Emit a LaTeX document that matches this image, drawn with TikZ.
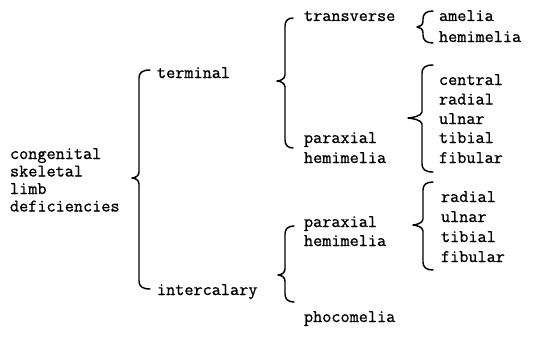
\documentclass[tikz,border=0pt]{standalone}
\usepackage{fontspec}
\setmonofont[FakeBold=0.9]{Latin Modern Mono}
\begin{document}
\begin{tikzpicture}[x=0.75pt,y=-0.75pt,
  lbl/.style={anchor=base west,inner sep=0pt,outer sep=0pt,font=\ttfamily\fontsize{13.3}{14}\selectfont},
  brc/.style={line width=1.1pt,line cap=round,line join=round}]
\useasboundingbox (0,0) rectangle (543,339);
\newcommand\mybrace[6]{% xv, xe, xtip, ytop, ytip, ybot
  \draw[brc] (#2,#4) .. controls (#1+3,#4) and (#1,#4+3) .. (#1,#4+8)
    -- (#1,#5-6) .. controls (#1,#5-2) and (#3+3,#5) .. (#3,#5)
    .. controls (#3+3,#5) and (#1,#5+2) .. (#1,#5+6)
    -- (#1,#6-8) .. controls (#1,#6-3) and (#1+3,#6) .. (#2,#6);}
% root
\node[lbl] (c1) at (10,159) {congenital};
\node[lbl] (c2) at (10,176.5) {skeletal};
\node[lbl] (c3) at (10,194) {limb};
\node[lbl] (c4) at (10,211.5) {deficiencies};
% level 1
\node[lbl] (term) at (157,78) {terminal};
\node[lbl] (inter) at (157,295) {intercalary};
% level 2
\node[lbl] (trans) at (304,21) {transverse};
\node[lbl] (px1) at (304,143) {paraxial};
\node[lbl] (px1b) at (304,163) {hemimelia};
\node[lbl] (px2) at (304,227) {paraxial};
\node[lbl] (px2b) at (304,246) {hemimelia};
\node[lbl] (phoc) at (304,322) {phocomelia};
% level 3
\node[lbl] (amel) at (439,21) {amelia};
\node[lbl] (hemi) at (439,42) {hemimelia};
\node[lbl] (cen) at (439,85) {central};
\node[lbl] (rad1) at (439,104.5) {radial};
\node[lbl] (uln1) at (439,124) {ulnar};
\node[lbl] (tib1) at (439,143) {tibial};
\node[lbl] (fib1) at (439,163) {fibular};
\node[lbl] (rad2) at (441,202) {radial};
\node[lbl] (uln2) at (441,222) {ulnar};
\node[lbl] (tib2) at (441,242) {tibial};
\node[lbl] (fib2) at (441,262) {fibular};
% braces
\mybrace{139}{150}{132}{70}{178}{289}
\mybrace{285}{293}{277}{18}{81}{148}
\mybrace{423}{433}{417}{11}{27}{43}
\mybrace{422}{433}{408}{65}{118}{172}
\mybrace{423}{433}{413}{182}{225}{270}
\mybrace{285}{294}{278}{226}{275}{302}
\end{tikzpicture}
\end{document}
